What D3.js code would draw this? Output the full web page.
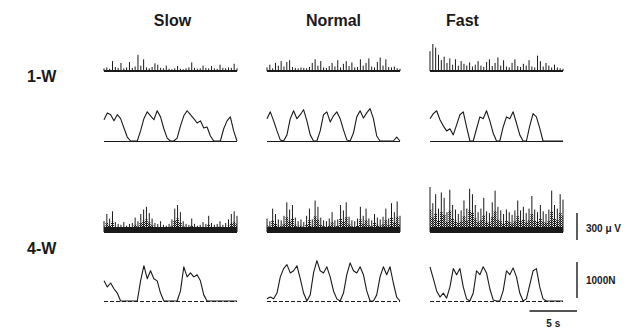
<!DOCTYPE html>
<html lang="en">
<head>
<meta charset="UTF-8">
<title>EMG and force traces</title>
<script src="https://d3js.org/d3.v7.min.js"></script>
<style>
  body { margin: 0; background: #fff; }
  text { font-family: "Liberation Sans", Arial, sans-serif; font-weight: bold; fill: #1a1a1a; }
  .trace { fill: none; stroke: #1a1a1a; stroke-width: 1.1; stroke-linejoin: round; }
  .spike { stroke: #1a1a1a; stroke-width: 1; }
  .bar { stroke: #1a1a1a; stroke-width: 1.4; }
</style>
</head>
<body>
<svg id="chart" width="632" height="331"></svg>
<script>
const speeds = ["Slow", "Normal", "Fast"];
const weeks = ["1-W", "4-W"];

// EMG amplitude (μV), 48 samples spread over 14 s
const emgSlow1 = [30, 40, 25, 110, 45, 35, 90, 30, 40, 100, 35, 50, 180, 60, 130, 40, 30, 45, 85, 70, 35, 30, 60, 25, 20, 30, 55, 25, 20, 30, 40, 95, 35, 25, 30, 60, 35, 30, 55, 30, 25, 70, 35, 30, 40, 35, 80, 30];
const emgNormal1 = [40, 70, 30, 90, 60, 110, 50, 100, 120, 45, 35, 30, 40, 35, 30, 45, 90, 130, 60, 110, 40, 35, 55, 90, 50, 120, 40, 80, 110, 55, 95, 40, 45, 130, 60, 90, 140, 50, 40, 100, 150, 60, 130, 45, 40, 50, 30, 25];
const emgFast1 = [220, 300, 260, 180, 120, 160, 90, 140, 70, 130, 60, 110, 80, 60, 95, 50, 70, 110, 60, 45, 100, 130, 55, 90, 150, 60, 120, 50, 40, 90, 130, 55, 45, 80, 60, 120, 50, 40, 170, 110, 50, 90, 60, 40, 70, 40, 30, 25];
const emgSlow4 = [120, 200, 150, 230, 110, 90, 80, 110, 70, 90, 100, 160, 120, 200, 250, 280, 210, 150, 100, 90, 120, 80, 70, 90, 140, 260, 300, 220, 120, 90, 80, 150, 90, 70, 80, 110, 90, 180, 100, 80, 90, 120, 80, 100, 140, 200, 230, 180];
const emgNormal4 = [150, 120, 260, 200, 140, 130, 180, 330, 250, 300, 160, 120, 140, 110, 180, 260, 140, 350, 280, 160, 130, 120, 150, 220, 130, 140, 300, 240, 330, 170, 130, 120, 150, 280, 180, 260, 150, 130, 200, 160, 140, 170, 260, 150, 320, 220, 340, 180];
const emgFast4 = [500, 320, 420, 260, 440, 380, 220, 470, 300, 250, 200, 240, 350, 260, 480, 420, 300, 220, 260, 380, 230, 210, 330, 460, 280, 240, 200, 250, 220, 190, 240, 350, 240, 280, 210, 260, 400, 250, 220, 300, 230, 200, 250, 460, 300, 260, 420, 360];

// bite force (N), 41 samples, 0.35 s apart
const forceSlow1 = [590, 780, 730, 560, 730, 620, 360, 110, 0, 0, 0, 280, 620, 810, 700, 590, 840, 670, 340, 80, 0, 0, 80, 420, 700, 840, 730, 620, 500, 560, 360, 390, 140, 0, 0, 0, 340, 560, 670, 280, 0];
const forceNormal1 = [620, 810, 560, 280, 30, 0, 170, 620, 840, 620, 730, 870, 560, 170, 0, 0, 280, 730, 810, 530, 700, 810, 620, 310, 30, 0, 220, 670, 840, 640, 780, 900, 620, 140, 0, 0, 0, 0, 0, 110, 0];
const forceFast1 = [620, 760, 840, 590, 420, 280, 340, 170, 450, 730, 810, 390, 0, 0, 340, 670, 620, 840, 560, 220, 0, 0, 390, 670, 620, 810, 500, 170, 0, 0, 420, 760, 670, 360, 0, 0, 0, 0, 0, 0, 0];
const forceSlow4 = [560, 390, 500, 340, 220, 0, 0, 0, 0, 0, 0, 560, 980, 620, 840, 620, 560, 220, 0, 0, 0, 0, 0, 280, 950, 670, 780, 670, 730, 560, 170, 0, 0, 0, 0, 0, 0, 0, 0, 0, 0];
const forceNormal4 = [60, 110, 60, 220, 670, 900, 1010, 780, 840, 980, 620, 220, 0, 170, 780, 1120, 840, 780, 950, 670, 280, 60, 0, 220, 730, 1060, 840, 780, 950, 730, 280, 0, 0, 170, 670, 950, 730, 950, 500, 110, 0];
const forceFast4 = [950, 620, 280, 110, 220, 80, 390, 900, 730, 900, 390, 60, 0, 220, 840, 730, 950, 780, 340, 30, 0, 0, 280, 840, 730, 920, 670, 220, 0, 60, 450, 840, 900, 390, 60, 0, 0, 0, 0, 0, 0];

const emgRows = [[emgSlow1, emgNormal1, emgFast1], [emgSlow4, emgNormal4, emgFast4]];
const forceRows = [[forceSlow1, forceNormal1, forceFast1], [forceSlow4, forceNormal4, forceFast4]];

// layout
const colX = [104, 267, 430];
const traceW = 133;
const duration = 14;
const emgBase = [71, 232];
const forceBase = [141, 301];

const svg = d3.select("#chart");

const defs = svg.append("defs");
const pat = defs.append("pattern")
    .attr("id", "halftone")
    .attr("width", 2).attr("height", 2)
    .attr("patternUnits", "userSpaceOnUse");
pat.append("rect").attr("width", 1).attr("height", 1).attr("fill", "#1a1a1a");
pat.append("rect").attr("x", 1).attr("y", 1).attr("width", 1).attr("height", 1).attr("fill", "#1a1a1a");

// amplitude scales (pixels up from baseline)
const emgAmp = d3.scaleLinear().domain([0, 300]).range([0, 27]);
const forceAmp = d3.scaleLinear().domain([0, 1000]).range([0, 36]);

const xScales = colX.map(x0 => d3.scaleLinear().domain([0, duration]).range([x0, x0 + traceW]));

// titles
speeds.forEach((s, i) => {
    svg.append("text")
        .attr("x", xScales[i](duration / 2) + [2, 0, -34][i])
        .attr("y", 26)
        .attr("text-anchor", "middle")
        .attr("font-size", 16)
        .text(s);
});

weeks.forEach((w, r) => {
    svg.append("text")
        .attr("x", 27)
        .attr("y", [82, 254][r])
        .attr("font-size", 16)
        .text(w);
});

// EMG traces
emgRows.forEach((row, r) => {
    row.forEach((vals, c) => {
        const x = xScales[c];
        const base = emgBase[r];
        const step = duration / (vals.length - 1);
        const g = svg.append("g");
        if (r === 1) {
            const area = d3.area()
                .x((d, i) => x(i * step))
                .y0(base)
                .y1(d => base - emgAmp(d) * 0.5)
                .curve(d3.curveStep);
            g.append("path").datum(vals)
                .attr("d", area)
                .attr("fill", "url(#halftone)");
            g.append("rect")
                .attr("x", x(0)).attr("y", base - 5)
                .attr("width", traceW).attr("height", 5)
                .attr("fill", "#1a1a1a");
        }
        g.selectAll("line.spike").data(vals).join("line")
            .attr("class", "spike")
            .attr("x1", (d, i) => x(i * step))
            .attr("x2", (d, i) => x(i * step))
            .attr("y1", base)
            .attr("y2", d => base - emgAmp(d));
        g.append("line")
            .attr("x1", x(0)).attr("x2", x(duration))
            .attr("y1", base).attr("y2", base)
            .attr("stroke", "#1a1a1a").attr("stroke-width", 2);
    });
});

// force traces
forceRows.forEach((row, r) => {
    row.forEach((vals, c) => {
        const x = xScales[c];
        const base = forceBase[r];
        const step = duration / (vals.length - 1);
        svg.append("line")
            .attr("x1", x(0)).attr("x2", x(duration))
            .attr("y1", base + 0.5).attr("y2", base + 0.5)
            .attr("stroke", "#1a1a1a").attr("stroke-width", 1)
            .attr("stroke-dasharray", r === 1 ? "4,2" : null);
        const line = d3.line()
            .x((d, i) => x(i * step))
            .y(d => base - forceAmp(d));
        svg.append("path").datum(vals)
            .attr("class", "trace")
            .attr("d", line);
    });
});

// calibration bars
const barX = 577;
svg.append("line").attr("class", "bar")
    .attr("x1", barX).attr("x2", barX)
    .attr("y1", 240).attr("y2", 240 - emgAmp(300));
svg.append("text").attr("x", 586).attr("y", 232).attr("font-size", 10).text("300 μ V");

svg.append("line").attr("class", "bar")
    .attr("x1", barX).attr("x2", barX)
    .attr("y1", 298).attr("y2", 298 - forceAmp(1000));
svg.append("text").attr("x", 586).attr("y", 284).attr("font-size", 10).text("1000N");

const tScale = d3.scaleLinear().domain([0, duration]).range([0, traceW]);
svg.append("line").attr("class", "bar")
    .attr("x1", barX - tScale(5)).attr("x2", barX)
    .attr("y1", 311).attr("y2", 311);
svg.append("text").attr("x", barX - tScale(5) / 2).attr("y", 327)
    .attr("text-anchor", "middle").attr("font-size", 10).text("5 s");
</script>
</body>
</html>
